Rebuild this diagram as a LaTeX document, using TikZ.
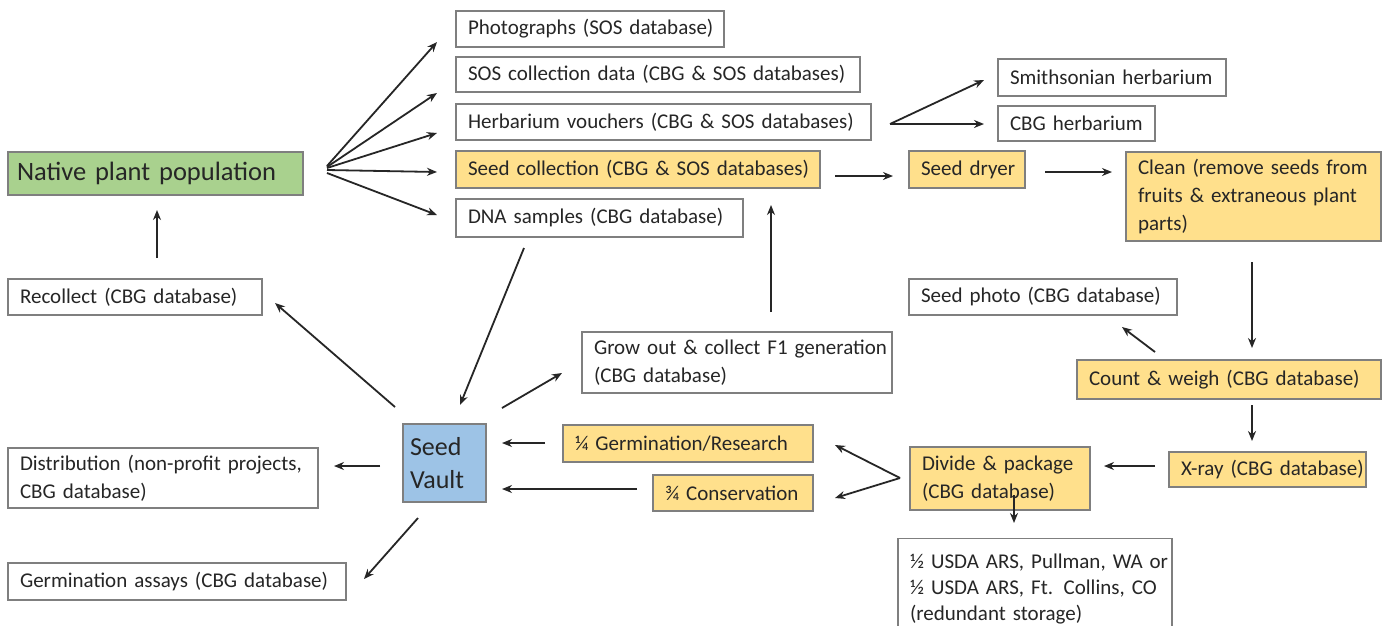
\documentclass[tikz,border=0pt]{standalone}
\usepackage{fontspec}
\setmainfont[WordSpace=0.8]{Carlito}
\usetikzlibrary{arrows.meta}
\definecolor{bordergray}{HTML}{7F7F7F}
\definecolor{gold}{HTML}{FFE08C}
\definecolor{leaf}{HTML}{A9D18E}
\definecolor{sky}{HTML}{9DC3E6}
\definecolor{ink}{HTML}{262626}
\tikzset{
  box/.style={draw=bordergray, line width=1.3pt, fill=white, text=ink, inner sep=0pt,
    font=\fontsize{21}{28}\selectfont, align=left},
  ybox/.style={box, fill=gold},
  arr/.style={draw=black!85, line width=1.8pt, -{Stealth[length=10pt,width=8pt]}},
}
\newcommand{\bx}[7]{% style, name, cx, cy, w, h, text (one line)
  \node[#1, minimum width=#5pt, minimum height=#6pt, text width=#5pt-24pt] (#2) at (#3,#4) {\mbox{#7}};}
\newcommand{\bxm}[7]{% style, name, cx, cy, w, h, text (lines in \mbox)
  \node[#1, minimum width=#5pt, minimum height=#6pt, text width=#5pt-24pt] (#2) at (#3,#4) {#7};}
\begin{document}
\begin{tikzpicture}[x=1pt,y=-1pt]
\clip (0,0) rectangle (1385,625);
\fill[white] (0,0) rectangle (1385,625);
% boxes
\bx{box}{photo}{590}{29}{268}{36}{Photographs (SOS database)}
\bx{box}{sosdata}{658}{74.5}{404}{35}{SOS collection data (CBG \& SOS databases)}
\bx{box}{herb}{663.5}{122}{415}{36}{Herbarium vouchers (CBG \& SOS databases)}
\bx{ybox}{seedcol}{638}{169.5}{364}{37}{Seed collection (CBG \& SOS databases)}
\bx{box}{dna}{599.5}{218}{287}{38}{DNA samples (CBG database)}
\node[box, fill=leaf, minimum width=295pt, minimum height=43pt, text width=277pt,
  font=\fontsize{26.5}{30}\selectfont] (native) at (155.5,173.5) {\mbox{Native plant population}};
\bx{box}{recollect}{135}{297}{254}{36}{Recollect (CBG database)}
\bx{box}{smith}{1112}{77.5}{228}{37}{Smithsonian herbarium}
\bx{box}{cbgherb}{1076.5}{123.5}{157}{35}{CBG herbarium}
\bx{ybox}{dryer}{967}{169.5}{116}{37}{Seed dryer}
\bxm{ybox}{clean}{1253.5}{196.5}{255}{89}{\mbox{Clean (remove seeds from}\\\mbox{fruits \& extraneous plant}\\\mbox{parts)}}
\bx{box}{photo2}{1043}{297}{268}{36}{Seed photo (CBG database)}
\bxm{box}{grow}{737}{362.5}{310}{61}{\mbox{Grow out \& collect F1 generation}\\\mbox{(CBG database)}}
\bx{ybox}{count}{1229}{379.5}{304}{39}{Count \& weigh (CBG database)}
\node[box, fill=sky, minimum width=83pt, minimum height=78pt, text width=69pt,
  font=\fontsize{26}{33}\selectfont] (vault) at (444.5,463) {Seed\\Vault};
\bx{ybox}{germ}{688}{443.5}{250}{37}{¼ Germination/Research}
\bx{ybox}{cons}{733}{493}{160}{36}{¾ Conservation}
\bxm{ybox}{divide}{1000}{478.5}{180}{63}{\mbox{Divide \& package}\\\mbox{(CBG database)}}
\bx{ybox}{xray}{1267.5}{469.5}{197}{35}{X-ray (CBG database)}
\bxm{box}{distrib}{163}{478}{310}{60}{\mbox{Distribution (non-profit projects,}\\\mbox{CBG database)}}
\bx{box}{gassay}{177}{581.5}{338}{37}{Germination assays (CBG database)}
\node[box, minimum width=274pt, minimum height=100pt, text width=250pt, anchor=north,
  font=\fontsize{21}{26}\selectfont]
  (usda) at (1035,538) {\rule{0pt}{12pt}\mbox{½ USDA ARS, Pullman, WA or}\\\mbox{½ USDA ARS, Ft. Collins, CO}\\\mbox{(redundant storage)}\\[20pt]};
% connectors
\draw[arr] (327,166) coordinate (n1) -- (437,42) coordinate (p1);
\draw[arr] (327,167) coordinate (n2) -- (437,93) coordinate (p2);
\draw[arr] (327,168) coordinate (n3) -- (437,133) coordinate (p3);
\draw[arr] (327,170) coordinate (n4) -- (437,172) coordinate (p4);
\draw[arr] (327,173) coordinate (n5) -- (437,215) coordinate (p5);
\draw[arr] (890,124) coordinate (h0) -- (984,80) coordinate (h1);
\draw[arr] (h0) -- (984,124) coordinate (h2);
\draw[arr] (835,176) coordinate (s0) -- (893,176) coordinate (s1);
\draw[arr] (1045,172) coordinate (d0) -- (1112,172) coordinate (d1);
\draw[arr] (1252,262) coordinate (c0) -- (1252,348) coordinate (c1);
\draw[arr] (1155,352) coordinate (w0) -- (1122,327) coordinate (w1);
\draw[arr] (1252,405) coordinate (w2) -- (1252,441) coordinate (x1);
\draw[arr] (1155,466) coordinate (x0) -- (1104,466) coordinate (v1);
\draw[arr] (900,478) coordinate (v0) -- (835,445) coordinate (g1);
\draw[arr] (v0) -- (835,498) coordinate (k1);
\draw[arr] (1014,495) coordinate (u0) -- (1014,523) coordinate (u1);
\draw[arr] (545,443) coordinate (g0) -- (502,443) coordinate (t1);
\draw[arr] (637,489) coordinate (k0) -- (502,489) coordinate (t2);
\draw[arr] (502,408) coordinate (t3) -- (562,373) coordinate (r1);
\draw[arr] (771,312) coordinate (r0) -- (771,205) coordinate (s2);
\draw[arr] (524,248) coordinate (q0) -- (460,405) coordinate (t4);
\draw[arr] (395,407) coordinate (t5) -- (275,303) coordinate (e1);
\draw[arr] (157,258) coordinate (e0) -- (157,210) coordinate (n0);
\draw[arr] (380,466) coordinate (t6) -- (334,466) coordinate (b1);
\draw[arr] (418,518) coordinate (t7) -- (364,579) coordinate (b2);
\end{tikzpicture}
\end{document}
